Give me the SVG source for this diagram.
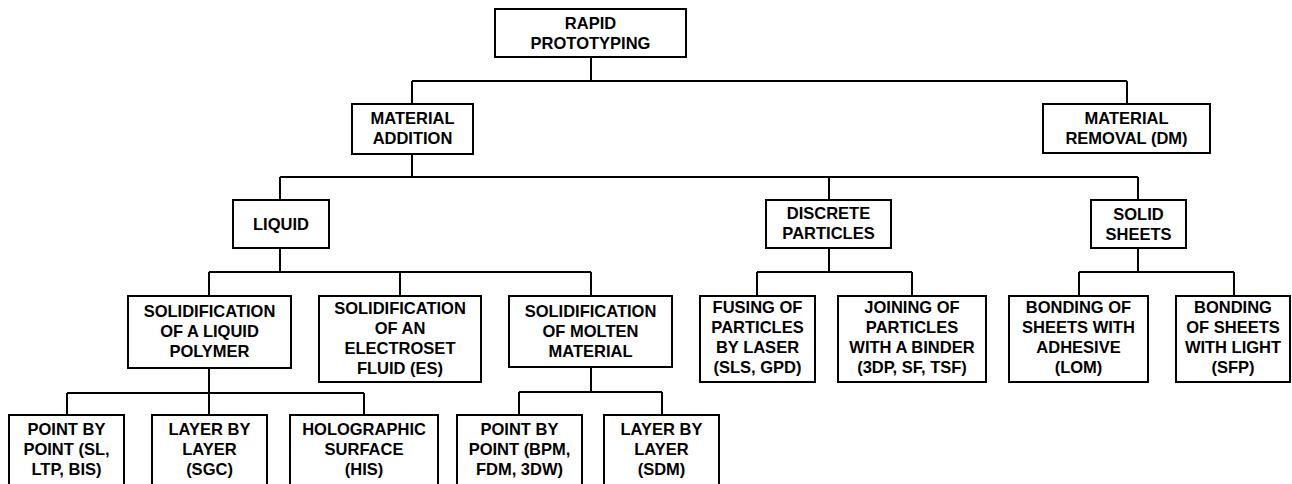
<svg xmlns="http://www.w3.org/2000/svg" width="1292" height="484" viewBox="0 0 1292 484">
<style>
rect.n{fill:#fff;stroke:#000;stroke-width:2}
text{font-family:"Liberation Sans",Arial,sans-serif;font-weight:bold;font-size:16.5px;fill:#000;text-anchor:middle}
#connectors path{fill:none;stroke:#000;stroke-width:2}
</style>
<rect width="1292" height="484" fill="#fff"/>
<g id="connectors">
<path d="M591,57V81M412,81H1127M412,81V104M1127,81V104"/>
<path d="M412,154V177M280,177H1138M280,177V200M829,177V200M1138,177V200"/>
<path d="M280,248V272M209,272H591M209,272V296M400,272V296M591,272V296"/>
<path d="M209,368V393M67,393H364M67,393V415M209,393V415M364,393V415"/>
<path d="M591,367V392M519,392H662M519,392V415M662,392V415"/>
<path d="M829,248V272M757,272H912M757,272V296M912,272V296"/>
<path d="M1138,248V272M1079,272H1234M1079,272V296M1234,272V296"/>
</g>
<g id="rapid"><rect class="n" x="495" y="9" width="191" height="48"/><text x="590.5" y="29">RAPID</text><text x="590.5" y="49">PROTOTYPING</text></g>
<g id="mat-add"><rect class="n" x="352" y="104" width="121" height="50"/><text x="412.5" y="124">MATERIAL</text><text x="412.5" y="144">ADDITION</text></g>
<g id="mat-rem"><rect class="n" x="1043" y="104" width="167" height="49"/><text x="1126.5" y="124">MATERIAL</text><text x="1126.5" y="144">REMOVAL (DM)</text></g>
<g id="liquid"><rect class="n" x="233" y="200" width="96" height="48"/><text x="281" y="230">LIQUID</text></g>
<g id="discrete"><rect class="n" x="766" y="200" width="125" height="48"/><text x="828.5" y="219">DISCRETE</text><text x="828.5" y="239">PARTICLES</text></g>
<g id="solid"><rect class="n" x="1091" y="200" width="95" height="48"/><text x="1138.5" y="220">SOLID</text><text x="1138.5" y="240">SHEETS</text></g>
<g id="sol-liquid"><rect class="n" x="128" y="296" width="163" height="72"/><text x="209.5" y="317">SOLIDIFICATION</text><text x="209.5" y="337">OF A LIQUID</text><text x="209.5" y="357">POLYMER</text></g>
<g id="sol-electro"><rect class="n" x="319" y="296" width="162" height="86"/><text x="400" y="314">SOLIDIFICATION</text><text x="400" y="334">OF AN</text><text x="400" y="354">ELECTROSET</text><text x="400" y="374">FLUID (ES)</text></g>
<g id="sol-molten"><rect class="n" x="509" y="296" width="163" height="71"/><text x="590.5" y="317">SOLIDIFICATION</text><text x="590.5" y="337">OF MOLTEN</text><text x="590.5" y="357">MATERIAL</text></g>
<g id="fusing"><rect class="n" x="700" y="296" width="115" height="86"/><text x="757.5" y="313">FUSING OF</text><text x="757.5" y="333">PARTICLES</text><text x="757.5" y="353">BY LASER</text><text x="757.5" y="373">(SLS, GPD)</text></g>
<g id="joining"><rect class="n" x="838" y="296" width="148" height="86"/><text x="912" y="313">JOINING OF</text><text x="912" y="333">PARTICLES</text><text x="912" y="353">WITH A BINDER</text><text x="912" y="373">(3DP, SF, TSF)</text></g>
<g id="bond-adh"><rect class="n" x="1009" y="296" width="139" height="86"/><text x="1078.5" y="313">BONDING OF</text><text x="1078.5" y="333">SHEETS WITH</text><text x="1078.5" y="353">ADHESIVE</text><text x="1078.5" y="373">(LOM)</text></g>
<g id="bond-light"><rect class="n" x="1176" y="296" width="114" height="86"/><text x="1233" y="313">BONDING</text><text x="1233" y="333">OF SHEETS</text><text x="1233" y="353">WITH LIGHT</text><text x="1233" y="373">(SFP)</text></g>
<g id="pbp1"><rect class="n" x="9" y="415" width="115" height="86"/><text x="66.5" y="435">POINT BY</text><text x="66.5" y="455">POINT (SL,</text><text x="66.5" y="475">LTP, BIS)</text></g>
<g id="lbl1"><rect class="n" x="152" y="415" width="115" height="86"/><text x="209.5" y="435">LAYER BY</text><text x="209.5" y="455">LAYER</text><text x="209.5" y="475">(SGC)</text></g>
<g id="holo"><rect class="n" x="290" y="415" width="148" height="86"/><text x="364" y="435">HOLOGRAPHIC</text><text x="364" y="455">SURFACE</text><text x="364" y="475">(HIS)</text></g>
<g id="pbp2"><rect class="n" x="457" y="415" width="125" height="86"/><text x="519.5" y="435">POINT BY</text><text x="519.5" y="455">POINT (BPM,</text><text x="519.5" y="475">FDM, 3DW)</text></g>
<g id="lbl2"><rect class="n" x="604" y="415" width="115" height="86"/><text x="661.5" y="435">LAYER BY</text><text x="661.5" y="455">LAYER</text><text x="661.5" y="475">(SDM)</text></g>
</svg>
